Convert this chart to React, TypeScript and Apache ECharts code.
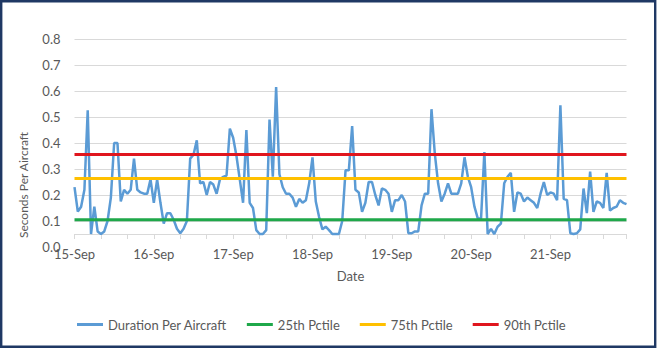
import React, { useEffect, useRef } from "react";
import * as echarts from "echarts";

const days = ["15-Sep", "16-Sep", "17-Sep", "18-Sep", "19-Sep", "20-Sep", "21-Sep"];
const hoursOfDay = ["00", "01", "02", "03", "04", "05", "06", "07", "08", "09", "10", "11", "12", "13", "14", "15", "16", "17", "18", "19", "20", "21", "22", "23"];

// Hourly "Duration Per Aircraft" (seconds), one array per day
const sep15 = [0.23, 0.136, 0.155, 0.22, 0.526, 0.05, 0.155, 0.06, 0.05, 0.06, 0.1, 0.19, 0.4, 0.4, 0.175, 0.22, 0.205, 0.22, 0.34, 0.22, 0.21, 0.205, 0.205, 0.26];
const sep16 = [0.17, 0.26, 0.17, 0.09, 0.13, 0.13, 0.105, 0.07, 0.053, 0.07, 0.1, 0.34, 0.355, 0.41, 0.245, 0.25, 0.2, 0.25, 0.24, 0.205, 0.26, 0.27, 0.275, 0.455];
const sep17 = [0.42, 0.35, 0.26, 0.17, 0.45, 0.17, 0.15, 0.065, 0.05, 0.05, 0.065, 0.49, 0.27, 0.615, 0.28, 0.23, 0.205, 0.205, 0.19, 0.155, 0.185, 0.17, 0.18, 0.245];
const sep18 = [0.345, 0.175, 0.115, 0.068, 0.078, 0.065, 0.05, 0.05, 0.05, 0.1, 0.295, 0.295, 0.465, 0.22, 0.21, 0.135, 0.17, 0.25, 0.25, 0.2, 0.16, 0.225, 0.22, 0.205];
const sep19 = [0.135, 0.18, 0.18, 0.2, 0.175, 0.053, 0.053, 0.06, 0.06, 0.16, 0.205, 0.205, 0.53, 0.36, 0.245, 0.175, 0.205, 0.245, 0.205, 0.205, 0.205, 0.245, 0.345, 0.27];
const sep20 = [0.23, 0.155, 0.11, 0.11, 0.365, 0.05, 0.07, 0.05, 0.078, 0.09, 0.245, 0.27, 0.285, 0.135, 0.21, 0.205, 0.175, 0.19, 0.18, 0.17, 0.15, 0.205, 0.25, 0.2];
const sep21 = [0.21, 0.205, 0.18, 0.545, 0.185, 0.18, 0.053, 0.05, 0.053, 0.068, 0.225, 0.13, 0.29, 0.135, 0.175, 0.17, 0.15, 0.285, 0.14, 0.15, 0.155, 0.18, 0.17, 0.165];

const pct25 = 0.105;
const pct75 = 0.263;
const pct90 = 0.356;

const yTicks = [0, 0.1, 0.2, 0.3, 0.4, 0.5, 0.6, 0.7, 0.8];

const seriesNames = ["Duration Per Aircraft", "25th Pctile", "75th Pctile", "90th Pctile"];

export default function App() {
  const ref = useRef<HTMLDivElement>(null);
  useEffect(() => {
    if (!ref.current) return;
    const chart = echarts.init(ref.current, undefined, { renderer: "svg" });
    const categories = days.flatMap((d) => hoursOfDay.map((h) => `${d} ${h}:00`));
    const duration = [sep15, sep16, sep17, sep18, sep19, sep20, sep21].flat();
    const flat = (v: number) => categories.map(() => v);
    const font = "Lato";
    const txt = "#595959";
    const grid = "#D9D9D9";
    chart.setOption({
      animation: false,
      backgroundColor: "#ffffff",
      textStyle: { fontFamily: font },
      grid: { left: 74.5, right: 30.5, top: 39, bottom: 112 },
      legend: {
        data: seriesNames,
        left: 77,
        top: 318,
        padding: 0,
        itemGap: 20,
        itemWidth: 26,
        itemHeight: 3,
        icon: "rect",
        textStyle: { color: txt, fontSize: 13, fontFamily: font },
      },
      xAxis: [
        {
          type: "category",
          data: categories,
          boundaryGap: false,
          axisLine: { show: false },
          axisTick: { show: false },
          splitLine: { show: false },
          axisLabel: {
            interval: 23,
            margin: 0,
            color: txt,
            fontSize: 13,
            fontFamily: font,
            formatter: (v: string) => v.split(" ")[0],
          },
          name: "Date",
          nameLocation: "middle",
          nameGap: 22,
          nameTextStyle: { color: txt, fontSize: 13, fontFamily: font },
        },
        {
          type: "category",
          data: categories,
          boundaryGap: false,
          position: "bottom",
          offset: -13,
          axisLine: { show: true, lineStyle: { color: grid, width: 1 } },
          axisTick: {
            show: true,
            length: 5,
            interval: (i: number) => i % 8 === 0 || i === categories.length - 1,
            lineStyle: { color: grid, width: 1 },
          },
          axisLabel: { show: false },
          splitLine: { show: false },
        },
      ],
      yAxis: {
        type: "value",
        min: yTicks[0],
        max: yTicks[yTicks.length - 1],
        interval: 0.1,
        axisLine: { show: false },
        axisTick: { show: false },
        axisLabel: {
          margin: 14,
          color: txt,
          fontSize: 13,
          fontFamily: font,
          formatter: (v: number) => v.toFixed(1),
        },
        splitLine: { show: true, showMinLine: false, lineStyle: { color: grid, width: 1 } },
      },
      graphic: [
        {
          type: "text",
          x: 23,
          y: 185,
          rotation: Math.PI / 2,
          style: {
            text: "Seconds Per Aircraft",
            fill: txt,
            fontSize: 12,
            fontFamily: font,
            align: "center",
            verticalAlign: "middle",
          },
        },
        {
          type: "rect",
          shape: { x: 1.2, y: 1.2, width: 654, height: 345.5 },
          style: { fill: "none", stroke: "#1F3864", lineWidth: 2.4 },
          z: 100,
        },
      ],
      series: [
        {
          name: seriesNames[0],
          type: "line",
          xAxisIndex: 0,
          data: duration,
          symbol: "none",
          lineStyle: { color: "#5B9BD5", width: 2.5 },
          itemStyle: { color: "#5B9BD5" },
        },
        {
          name: seriesNames[1],
          type: "line",
          xAxisIndex: 0,
          data: flat(pct25),
          symbol: "none",
          lineStyle: { color: "#1FA84A", width: 3 },
          itemStyle: { color: "#1FA84A" },
        },
        {
          name: seriesNames[2],
          type: "line",
          xAxisIndex: 0,
          data: flat(pct75),
          symbol: "none",
          lineStyle: { color: "#FFC000", width: 3 },
          itemStyle: { color: "#FFC000" },
        },
        {
          name: seriesNames[3],
          type: "line",
          xAxisIndex: 0,
          data: flat(pct90),
          symbol: "none",
          lineStyle: { color: "#E0161E", width: 3 },
          itemStyle: { color: "#E0161E" },
        },
      ],
    });
    return () => chart.dispose();
  }, []);
  return (
    <div
      ref={ref}
      style={{ position: "absolute", left: 0, top: 0, width: 657, height: 359, background: "#fff" }}
    />
  );
}
